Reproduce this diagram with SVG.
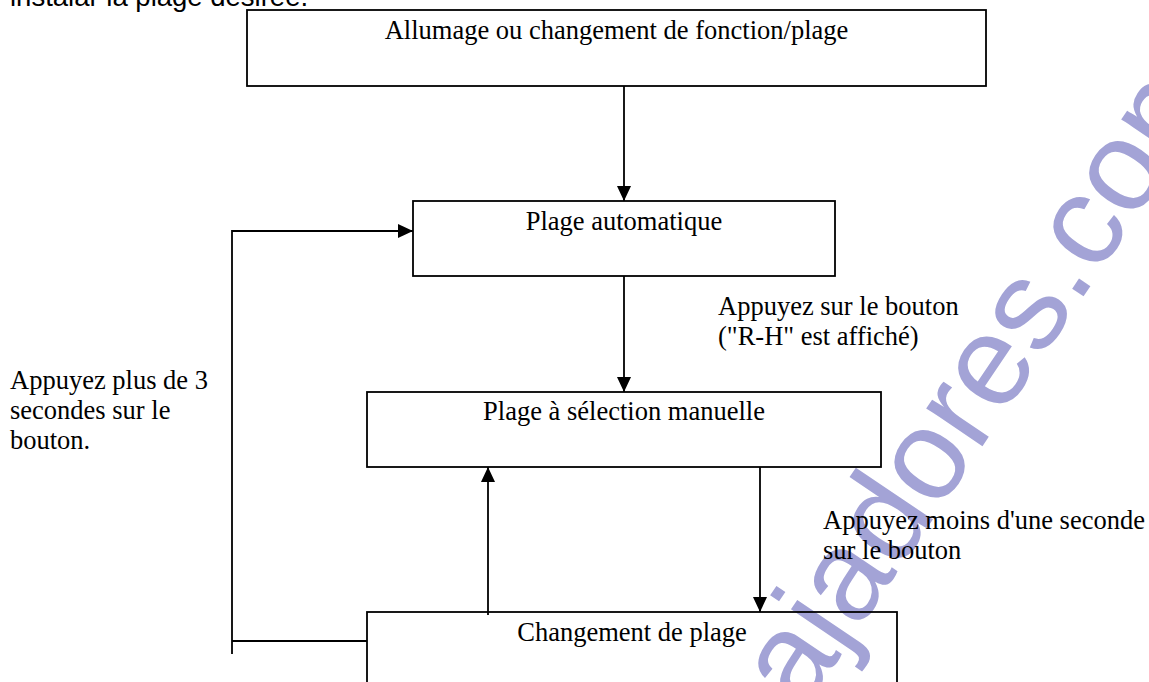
<svg xmlns="http://www.w3.org/2000/svg" width="1149" height="682" viewBox="0 0 1149 682">
<style>
.box{fill:none;stroke:#000;stroke-width:1.8}
.t{font-family:"Liberation Serif","Times New Roman",serif;font-size:26.5px;fill:#000}
.s{font-family:"Liberation Sans",Arial,sans-serif;font-size:27.5px;fill:#000}
.c{fill:none;stroke:#000;stroke-width:1.8}
.wm{font-family:"Liberation Sans",Arial,sans-serif;font-size:128px;fill:#a3a3d6}
</style>
<defs>
<marker id="ah" markerUnits="userSpaceOnUse" markerWidth="15" markerHeight="14" refX="15" refY="7" orient="auto">
<path d="M0,0 L15,7 L0,14 z" fill="#000"/>
</marker>
</defs>
<rect width="1149" height="682" fill="#fff"/>
<g id="watermark">
<text class="wm" transform="translate(679,896) rotate(-56)">trabajadores.com</text>
</g>
<text class="s" x="10" y="6">instalar la plage désirée.</text>
<g id="connectors">
<line class="c" x1="624" y1="86" x2="624" y2="201" marker-end="url(#ah)"/>
<line class="c" x1="624" y1="276" x2="624" y2="392" marker-end="url(#ah)"/>
<line class="c" x1="760" y1="467" x2="760" y2="612" marker-end="url(#ah)"/>
<line class="c" x1="488" y1="615" x2="488" y2="467" marker-end="url(#ah)"/>
<polyline class="c" points="367,641 232,641"/>
<polyline class="c" points="232,654 232,231 413,231" marker-end="url(#ah)"/>
</g>
<g id="n1">
<rect class="box" x="247" y="10" width="739" height="76"/>
<text class="t" x="616.5" y="39" text-anchor="middle">Allumage ou changement de fonction/plage</text>
</g>
<g id="n2">
<rect class="box" x="413" y="201" width="422" height="75"/>
<text class="t" x="624" y="230" text-anchor="middle">Plage automatique</text>
</g>
<g id="n3">
<rect class="box" x="367" y="392" width="514" height="75"/>
<text class="t" x="624" y="420" text-anchor="middle">Plage à sélection manuelle</text>
</g>
<g id="n4">
<rect class="box" x="367" y="612" width="530" height="100"/>
<text class="t" x="632" y="641" text-anchor="middle">Changement de plage</text>
</g>
<g id="labels">
<text class="t" x="718" y="315">Appuyez sur le bouton</text>
<text class="t" x="718" y="345">("R-H" est affiché)</text>
<text class="t" x="823" y="529">Appuyez moins d'une seconde</text>
<text class="t" x="823" y="559">sur le bouton</text>
<text class="t" x="10" y="389">Appuyez plus de 3</text>
<text class="t" x="10" y="419">secondes sur le</text>
<text class="t" x="10" y="449">bouton.</text>
</g>
</svg>
